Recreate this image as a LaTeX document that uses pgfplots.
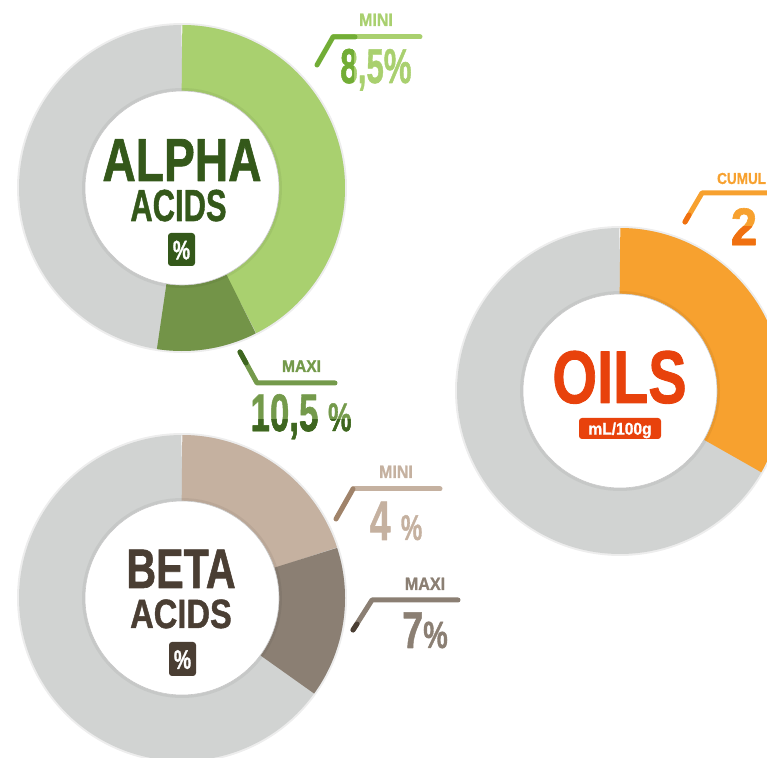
\documentclass[border=0pt]{standalone}
\usepackage{fontspec}
\setmainfont{Liberation Sans}[BoldFeatures={FakeBold=1.2}]
\usepackage{pgfplots}
\pgfplotsset{compat=1.18}

\definecolor{ringgray}{HTML}{D1D3D2}
\definecolor{alphalight}{HTML}{A9D06F}
\definecolor{alphaseg}{HTML}{739448}
\definecolor{alphatext}{HTML}{34581A}
\definecolor{alphaeight}{HTML}{72AD36}
\definecolor{alphamaxi}{HTML}{749A4B}
\definecolor{alphadeep}{HTML}{3E6620}
\definecolor{betalight}{HTML}{C5B1A0}
\definecolor{betaseg}{HTML}{8B7F73}
\definecolor{betatext}{HTML}{4A3E33}
\definecolor{betaline}{HTML}{A0836A}
\definecolor{oilsorange}{HTML}{F7A12F}
\definecolor{oilstext}{HTML}{E8420C}
\definecolor{oilsdark}{HTML}{F07010}

\newcommand{\fs}[1]{\fontsize{#1}{#1}\selectfont\bfseries}

% data: values and full-circle scale
\def\alphamini{8.5}\def\alphamaxi{10.5}\def\alphascale{20}
\def\betamini{4}\def\betamaxi{7}\def\betascale{20}
\def\oilscumul{2}\def\oilsscale{6}

\newcommand{\ringseg}[5]{%
  \addplot[draw=#5,line width=66bp,domain=#3:#4,samples=150,variable=\t]
    ({#1+130*sin(\t)},{#2-130*cos(\t)});}
\newcommand{\ringbase}[2]{%
  \addplot[draw=black,draw opacity=0.07,line width=3bp,domain=0:360,samples=150,variable=\t]
    ({#1+163.5*sin(\t)},{#2-163.5*cos(\t)});
  \ringseg{#1}{#2}{0}{360}{ringgray}}
\newcommand{\disk}[2]{%
  \addplot[draw=black,draw opacity=0.05,line width=3bp,domain=0:360,samples=150,variable=\t]
    ({#1+98.5*sin(\t)},{#2-98.5*cos(\t)});
  \addplot[fill=white,draw=black!22,line width=0.6bp,domain=0:360,samples=150,variable=\t]
    ({#1+97*sin(\t)},{#2-97*cos(\t)}) -- cycle;}

\begin{document}
\begin{tikzpicture}
\pgfmathsetmacro\aA{\alphamini/\alphascale*360}
\pgfmathsetmacro\aB{\alphamaxi/\alphascale*360}
\pgfmathsetmacro\bA{\betamini/\betascale*360}
\pgfmathsetmacro\bB{\betamaxi/\betascale*360}
\pgfmathsetmacro\oA{\oilscumul/\oilsscale*360}
\begin{axis}[at={(0,0)},anchor=south west,scale only axis,
  width=767bp,height=758bp,xmin=0,xmax=767,ymin=0,ymax=758,
  y dir=reverse,hide axis,clip=true]
  % alpha acids
  \ringbase{182}{188}
  \ringseg{182}{188}{0}{\aA}{alphalight}
  \ringseg{182}{188}{\aA}{\aB}{alphaseg}
  \disk{182}{188}
  % beta acids
  \ringbase{182}{598}
  \ringseg{182}{598}{0}{\bA}{betalight}
  \ringseg{182}{598}{\bA}{\bB}{betaseg}
  \disk{182}{598}
  % oils
  \ringbase{620}{391}
  \ringseg{620}{391}{0}{\oA}{oilsorange}
  \disk{620}{391}
\end{axis}

\begin{scope}[x=1bp,y=-1bp,shift={(0,758bp)},line cap=round,line join=round,
  every node/.style={inner sep=0,text depth=0pt}]
  % centre titles
  \node[anchor=base,text=alphatext,xscale=0.76,text height=44bp] at (182,181) {\fs{61}ALPHA};
  \node[anchor=base,text=alphatext,xscale=0.69,text height=32bp] at (178.5,221) {\fs{45}ACIDS};
  \fill[alphatext,rounded corners=3bp] (168,233) rectangle (195,266);
  \node[text=white,xscale=0.72] at (181.5,250) {\fs{27}\%};

  \node[anchor=base,text=betatext,xscale=0.74,text height=40bp] at (181,588) {\fs{56}BETA};
  \node[anchor=base,text=betatext,xscale=0.80,text height=29bp] at (181,628) {\fs{41}ACIDS};
  \fill[betatext,rounded corners=3bp] (169,642) rectangle (196,676);
  \node[text=white,xscale=0.72] at (182.5,659.5) {\fs{27}\%};

  \node[anchor=base,text=oilstext,xscale=0.77,text height=54bp] at (619.5,403) {\fs{75}OILS};
  \fill[oilstext,rounded corners=3bp] (579,418) rectangle (661,439);
  \node[text=white,xscale=0.92] at (620,428.5) {\fs{17}mL/100g};

  % alpha mini
  \draw[alphalight,line width=5bp] (333,37) -- (420,37);
  \draw[alphaeight,line width=5bp] (317,65) -- (333,37) -- (355,37);
  \node[anchor=base,text=alphalight,xscale=0.89] at (376,26) {\fs{18}MINI};
  \node[anchor=base,text=alphalight,xscale=0.64] at (376,83) {\fs{49}8,5\%};
  \begin{scope}
    \clip (300,40) rectangle (354,95);
    \node[anchor=base,text=alphaeight,xscale=0.64] at (376,83) {\fs{49}8,5\%};
  \end{scope}

  % alpha maxi
  \draw[alphamaxi,line width=5bp] (240,352) -- (257,383) -- (335,383);
  \draw[alphadeep,line width=5bp] (240,352) -- (246,363);
  \node[anchor=base,text=alphamaxi,xscale=0.92] at (301.5,372) {\fs{17}MAXI};
  \node[anchor=base,text=alphamaxi,xscale=0.66] at (301,431) {\fs{53}10,5 {\fontsize{40}{40}\selectfont\%}};
  \begin{scope}
    \clip (200,420) rectangle (400,445);
    \node[anchor=base,text=alphadeep,xscale=0.66] at (301,431) {\fs{53}10,5 {\fontsize{40}{40}\selectfont\%}};
  \end{scope}

  % beta mini
  \draw[betalight,line width=5bp] (353,489) -- (440,489);
  \draw[betaline,line width=5bp] (336,519) -- (353,489);
  \node[anchor=base,text=betalight,xscale=0.89] at (396,478) {\fs{18}MINI};
  \node[anchor=base,text=betalight,xscale=0.67] at (396,540) {\fs{56}4 {\fontsize{36}{36}\selectfont\%}};

  % beta maxi
  \draw[betaseg,line width=5bp] (353,630) -- (372,600) -- (458,600);
  \draw[betatext,line width=5bp] (353,630) -- (357,624);
  \node[anchor=base,text=betaseg,xscale=0.9] at (425,590) {\fs{18}MAXI};
  \node[anchor=base,text=betaseg,xscale=0.73] at (425,648) {\fs{52}7{\fontsize{38}{38}\selectfont\%}};

  % oils cumul
  \draw[oilsorange,line width=5bp] (685,222) -- (702,193) -- (790,193);
  \draw[oilsdark,line width=5bp] (685,222) -- (689,215);
  \node[anchor=base west,text=oilsorange,xscale=0.85] at (717,184) {\fs{16}CUMUL};
  \node[anchor=base,text=oilsorange,xscale=0.9] at (744,245) {\fs{53}2};
  \begin{scope}
    \clip (700,227) rectangle (790,260);
    \node[anchor=base,text=oilsdark,xscale=0.9] at (744,245) {\fs{53}2};
  \end{scope}
\end{scope}
\pgfresetboundingbox
\path[use as bounding box] (0,0) rectangle (767bp,758bp);
\end{tikzpicture}
\end{document}
